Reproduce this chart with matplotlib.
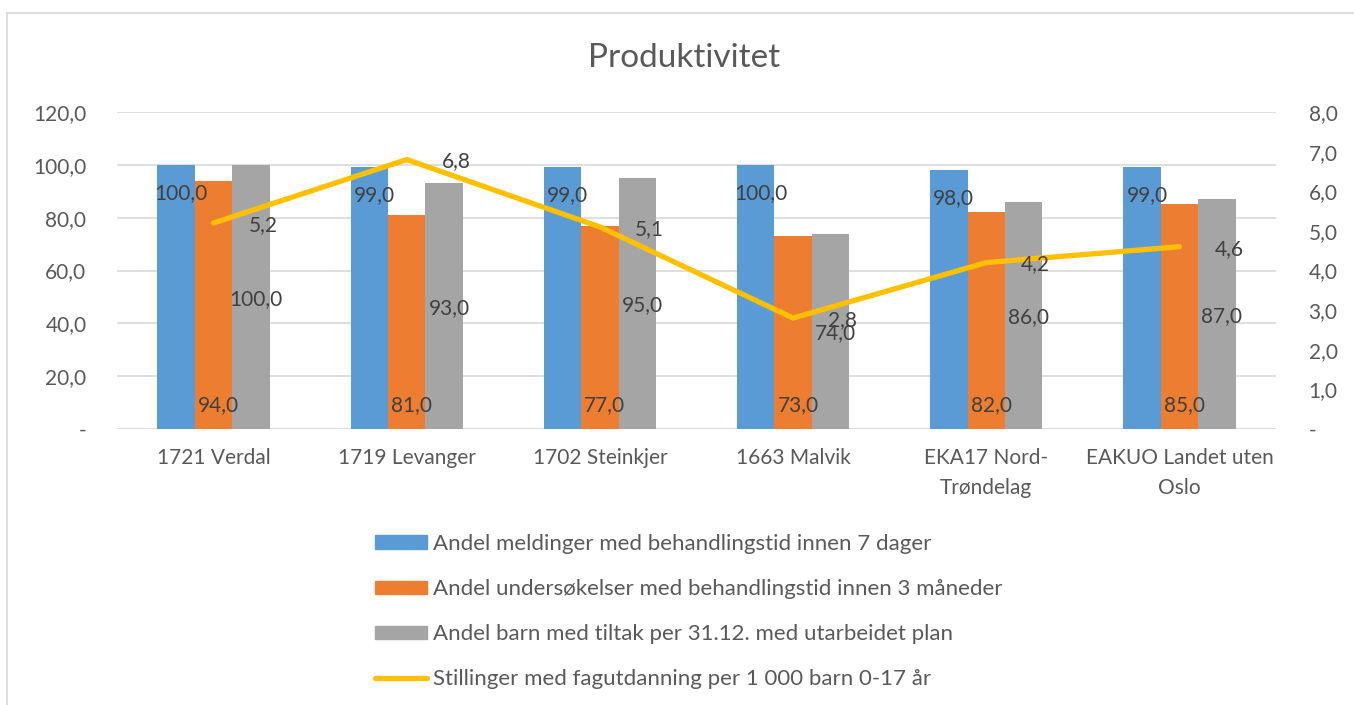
import matplotlib
matplotlib.use("Agg")
import matplotlib.pyplot as plt
from matplotlib.lines import Line2D
from matplotlib.patches import Patch
import numpy as np

plt.rcParams['font.family'] = ['Lato', 'DejaVu Sans']

categories = ["1721 Verdal", "1719 Levanger", "1702 Steinkjer", "1663 Malvik",
              "EKA17 Nord-\nTrøndelag", "EAKUO Landet uten\nOslo"]
meldinger = [100.0, 99.0, 99.0, 100.0, 98.0, 99.0]
undersokelser = [94.0, 81.0, 77.0, 73.0, 82.0, 85.0]
tiltak_plan = [100.0, 93.0, 95.0, 74.0, 86.0, 87.0]
stillinger = [5.2, 6.8, 5.1, 2.8, 4.2, 4.6]

series_names = ["Andel meldinger med behandlingstid innen 7 dager",
                "Andel undersøkelser med behandlingstid innen 3 måneder",
                "Andel barn med tiltak per 31.12. med utarbeidet plan",
                "Stillinger med fagutdanning per 1 000 barn 0-17 år"]
left_ticks = [0, 20, 40, 60, 80, 100, 120]
right_ticks = [0, 1, 2, 3, 4, 5, 6, 7, 8]

c_blue, c_orange, c_gray, c_yellow = "#5B9BD5", "#ED7D31", "#A5A5A5", "#FFC000"
tick_col = "#595959"
lab_col = "#404040"
fs = 15

def fmt(v):
    return "-" if v == 0 else f"{v:.1f}".replace(".", ",")

fig = plt.figure(figsize=(13.54, 7.05), dpi=100)
ax = fig.add_axes([117/1354, 1-429/705, (1276-117)/1354, (429-112)/705])
ax2 = ax.twinx()

x = np.arange(len(categories))
w = 0.194
ax.bar(x - w, meldinger, w, color=c_blue, zorder=2)
ax.bar(x, undersokelser, w, color=c_orange, zorder=2)
ax.bar(x + w, tiltak_plan, w, color=c_gray, zorder=2)
ax2.plot(x, stillinger, color=c_yellow, lw=3.8, solid_capstyle='round',
         solid_joinstyle='miter', zorder=3)

ax.set_xlim(-0.5, len(categories) - 0.5)
ax.set_ylim(0, 120)
ax2.set_ylim(0, 8)
ax.set_yticks(left_ticks)
ax.set_yticklabels([fmt(v) for v in left_ticks])
ax2.set_yticks(right_ticks)
ax2.set_yticklabels([fmt(v) for v in right_ticks])
ax.set_xticks(x)
ax.set_xticklabels(categories, linespacing=1.6)
ax.yaxis.grid(True, color="#D9D9D9", lw=1.2, zorder=0)
ax.set_axisbelow(True)
for a in (ax, ax2):
    for s in a.spines.values():
        s.set_visible(False)
    a.tick_params(length=0, labelsize=fs, colors=tick_col)
ax.tick_params(axis='y', pad=22)
ax2.tick_params(axis='y', pad=23.5)
ax.tick_params(axis='x', pad=14)

# data labels
for i in range(len(categories)):
    ax.annotate(fmt(meldinger[i]), (x[i] - w, meldinger[i]), xytext=(5, -28),
                textcoords='offset pixels', ha='center', va='center',
                fontsize=fs, color=lab_col, zorder=5)
    ax.annotate(fmt(undersokelser[i]), (x[i], 0), xytext=(5, 24),
                textcoords='offset pixels', ha='center', va='center',
                fontsize=fs, color=lab_col, zorder=5)
    ax.annotate(fmt(tiltak_plan[i]), (x[i] + w, tiltak_plan[i] / 2), xytext=(5, -2),
                textcoords='offset pixels', ha='center', va='center',
                fontsize=fs, color=lab_col, zorder=5)
    ax2.annotate(fmt(stillinger[i]), (x[i], stillinger[i]), xytext=(35, -2),
                 textcoords='offset pixels', ha='left', va='center',
                 fontsize=fs, color=lab_col, zorder=6)

fig.text(684/1354, 1-58/705, "Produktivitet", ha='center', va='center',
         fontsize=24, color=tick_col)

lfs = 16
handles = [Patch(color=c_blue), Patch(color=c_orange), Patch(color=c_gray),
           Line2D([0], [0], color=c_yellow, lw=3.8, solid_capstyle='round')]
fig.legend(handles, series_names, loc='upper left',
           bbox_to_anchor=(375/1354, 1-534/705), frameon=False, fontsize=lfs,
           labelcolor=tick_col, handlelength=2.34, handletextpad=0.27,
           handleheight=0.55, labelspacing=1.13, borderpad=0, borderaxespad=0)

# chart border (top and left visible)
fig.add_artist(Line2D([7/1354, 7/1354], [0, 1-13/705], transform=fig.transFigure,
                      color="#D9D9D9", lw=1.2))
fig.add_artist(Line2D([7/1354, 1], [1-13/705, 1-13/705], transform=fig.transFigure,
                      color="#D9D9D9", lw=1.2))

fig.savefig("out.png", dpi=100)
